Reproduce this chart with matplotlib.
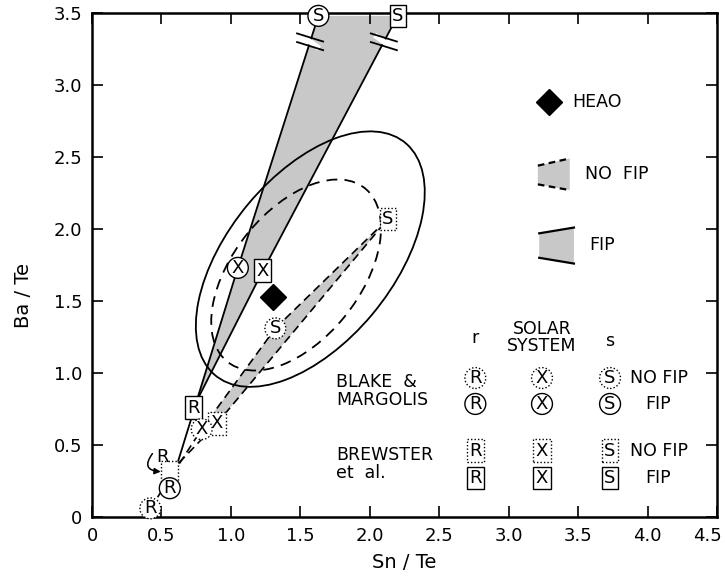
import matplotlib
matplotlib.use('Agg')
import matplotlib.pyplot as plt
from matplotlib.patches import Ellipse, Polygon
from matplotlib.transforms import ScaledTranslation
import numpy as np

plt.rcParams['font.family'] = ['DejaVu Sans']

# ---------------- data ----------------
point_labels = ['R', 'X', 'S']
blake_nofip_x = [0.42, 0.79, 1.32]
blake_nofip_y = [0.06, 0.61, 1.31]
blake_fip_x = [0.56, 1.05, 1.63]
blake_fip_y = [0.20, 1.73, 3.48]
brewster_nofip_x = [0.56, 0.90, 2.13]
brewster_nofip_y = [0.31, 0.65, 2.07]
brewster_fip_x = [0.73, 1.23, 2.20]
brewster_fip_y = [0.76, 1.71, 3.48]
heao_x = [1.30]
heao_y = [1.53]

# outline points of the two uncertainty contours
solid_contour_x = [2.00, 2.24, 2.38, 2.34, 2.19, 2.00, 1.64, 1.28, 0.99, 0.80, 0.74, 0.85, 1.23, 1.52, 1.71]
solid_contour_y = [2.70, 2.61, 2.35, 1.99, 1.64, 1.36, 1.08, 0.94, 0.92, 1.08, 1.36, 1.76, 2.26, 2.52, 2.61]
dashed_contour_x = [2.06, 2.00, 1.81, 1.57, 1.35, 1.12, 0.94, 0.85, 0.90, 1.09, 1.28, 1.59, 1.83, 2.00, 2.06]
dashed_contour_y = [2.19, 2.28, 2.33, 2.30, 2.19, 1.97, 1.66, 1.36, 1.13, 1.03, 1.05, 1.17, 1.38, 1.71, 1.97]

x_ticks = [0, 0.5, 1.0, 1.5, 2.0, 2.5, 3.0, 3.5, 4.0, 4.5]
x_tick_labels = ['0', '0.5', '1.0', '1.5', '2.0', '2.5', '3.0', '3.5', '4.0', '4.5']
y_ticks = [0, 0.5, 1.0, 1.5, 2.0, 2.5, 3.0, 3.5]
y_tick_labels = ['0', '0.5', '1.0', '1.5', '2.0', '2.5', '3.0', '3.5']

break_y = 3.30
FILL = '#c8c8c8'
MFS = 13  # letter size inside markers


def fit_ellipse(xs, ys):
    x = np.asarray(xs, float)
    y = np.asarray(ys, float)
    M = np.column_stack([x * x, x * y, y * y, x, y])
    A, B, C, D, E = np.linalg.lstsq(M, np.ones_like(x), rcond=None)[0]
    den = B * B - 4 * A * C
    x0 = (2 * C * D - B * E) / den
    y0 = (2 * A * E - B * D) / den
    Fp = A * x0 * x0 + B * x0 * y0 + C * y0 * y0 + D * x0 + E * y0 - 1
    evals, evecs = np.linalg.eigh(np.array([[A, B / 2], [B / 2, C]]))
    axes = np.sqrt(-Fp / evals)
    i = int(np.argmax(axes))
    ang = np.degrees(np.arctan2(evecs[1, i], evecs[0, i]))
    return x0, y0, 2 * axes[i], 2 * axes[1 - i], ang


# ---------------- figure ----------------
fig = plt.figure(figsize=(7.25, 5.79), dpi=100)
ax = fig.add_axes([92 / 725, 1 - 517 / 579, (717 - 92) / 725, (517 - 13) / 579])
ax.set_xlim(0, 4.5)
ax.set_ylim(0, 3.5)
ax.set_xticks(x_ticks)
ax.set_xticklabels(x_tick_labels)
ax.set_yticks(y_ticks)
ax.set_yticklabels(y_tick_labels)
ax.tick_params(direction='in', length=8, width=1.2, top=True, right=True,
               labelsize=13, pad=7)
last = ax.get_xticklabels()[-1]
last.set_transform(last.get_transform() + ScaledTranslation(-7 / 72, 0, fig.dpi_scale_trans))
for sp in ax.spines.values():
    sp.set_linewidth(1.8)
ax.set_xlabel('Sn / Te', fontsize=14, labelpad=6)
ax.set_ylabel('Ba / Te', fontsize=14)
ax.yaxis.set_label_coords(-0.095, 0.44)

# FIP band (solid edges)
fip_poly = [(brewster_fip_x[0], brewster_fip_y[0]),
            (blake_fip_x[1], blake_fip_y[1]),
            (blake_fip_x[2], blake_fip_y[2]),
            (brewster_fip_x[2], brewster_fip_y[2]),
            (brewster_fip_x[1], brewster_fip_y[1])]
ax.add_patch(Polygon(fip_poly, closed=True, fc=FILL, ec='none', zorder=1, clip_on=False))
ax.plot(blake_fip_x, blake_fip_y, color='black', lw=1.3, zorder=2, clip_on=False)
ax.plot(brewster_fip_x, brewster_fip_y, color='black', lw=1.3, zorder=2, clip_on=False)

# NO FIP band (dashed edges)
nofip_poly = [(blake_nofip_x[1], blake_nofip_y[1]),
              (blake_nofip_x[2], blake_nofip_y[2]),
              (brewster_nofip_x[2], brewster_nofip_y[2]),
              (brewster_nofip_x[1], brewster_nofip_y[1])]
ax.add_patch(Polygon(nofip_poly, closed=True, fc=FILL, ec='none', zorder=1))
DASH = (0, (5, 3))
ax.plot(blake_nofip_x, blake_nofip_y, color='black', lw=1.2, ls=DASH, zorder=2)
ax.plot([blake_nofip_x[2], brewster_nofip_x[2]], [blake_nofip_y[2], brewster_nofip_y[2]],
        color='black', lw=1.2, ls=DASH, zorder=2)
ax.plot(brewster_nofip_x, brewster_nofip_y, color='black', lw=1.2, ls=DASH, zorder=2)

# contours
for cx, cy, ls in [(solid_contour_x, solid_contour_y, '-'),
                   (dashed_contour_x, dashed_contour_y, (0, (6, 4)))]:
    x0, y0, w, h, ang = fit_ellipse(cx, cy)
    ax.add_patch(Ellipse((x0, y0), w, h, angle=ang, fill=False,
                         ec='black', lw=1.3, ls=ls, zorder=2))


# break marks on the off-scale lines
def break_marks(xs, ys, yb):
    xb = np.interp(yb, ys, xs)
    ax.plot([xb - 0.05, xb + 0.05], [yb + 0.035, yb - 0.035], color='white', lw=4, zorder=3)
    for dy in (0.03, -0.03):
        ax.plot([xb - 0.10, xb + 0.10], [yb + dy + 0.03, yb + dy - 0.03],
                color='black', lw=1.3, zorder=3, solid_capstyle='butt')


break_marks(blake_fip_x[1:], blake_fip_y[1:], break_y)
break_marks(brewster_fip_x[1:], brewster_fip_y[1:], break_y)


# markers
def mark(x, y, letter, shape, dotted, show=True, fs=MFS):
    box = 'circle,pad=0.08' if shape == 'circle' else 'square,pad=0.13'
    ax.text(x, y, letter, ha='center', va='center', fontsize=fs,
            color='black' if show else 'none',
            bbox=dict(boxstyle=box, fc='white', ec='black', lw=1.0,
                      ls=(0, (1, 1.5)) if dotted else '-'),
            zorder=6, clip_on=False)


for i, lab in enumerate(point_labels):
    mark(brewster_nofip_x[i], brewster_nofip_y[i], lab, 'square', True, show=(i != 0))
for i, lab in enumerate(point_labels):
    mark(blake_nofip_x[i], blake_nofip_y[i], lab, 'circle', True)
    mark(blake_fip_x[i], blake_fip_y[i], lab, 'circle', False)
    mark(brewster_fip_x[i], brewster_fip_y[i], lab, 'square', False)

# displaced label for the hidden Brewster NO FIP r point
rx, ry = brewster_nofip_x[0], brewster_nofip_y[0]
ax.text(rx - 0.05, ry + 0.105, 'R', fontsize=MFS, ha='center', va='center', zorder=7)
ax.annotate('', xy=(rx - 0.065, ry + 0.005), xytext=(rx - 0.125, ry + 0.13),
            arrowprops=dict(arrowstyle='-|>', lw=1.1, color='black',
                            connectionstyle='arc3,rad=0.9',
                            shrinkA=0, shrinkB=0, mutation_scale=9), zorder=7)

ax.plot(heao_x, heao_y, marker='D', ms=13, color='black', ls='none', zorder=6)

# ---------------- legend (upper right) ----------------
ax.plot([3.29], [2.88], marker='D', ms=13, color='black', zorder=6)
ax.text(3.46, 2.88, 'HEAO', fontsize=12.5, va='center', ha='left')

ax.add_patch(Polygon([(3.21, 2.44), (3.44, 2.49), (3.44, 2.27), (3.21, 2.31)],
                     closed=True, fc=FILL, ec='none'))
ax.plot([3.21, 3.44], [2.44, 2.49], color='black', lw=1.6, ls=(0, (3, 2)))
ax.plot([3.21, 3.44], [2.31, 2.27], color='black', lw=1.6, ls=(0, (3, 2)))
ax.text(3.55, 2.38, 'NO  FIP', fontsize=12.5, va='center', ha='left')

ax.add_patch(Polygon([(3.22, 1.97), (3.47, 2.01), (3.47, 1.76), (3.22, 1.80)],
                     closed=True, fc=FILL, ec='none'))
ax.plot([3.22, 3.47], [1.97, 2.01], color='black', lw=1.6)
ax.plot([3.22, 3.47], [1.80, 1.76], color='black', lw=1.6)
ax.text(3.58, 1.89, 'FIP', fontsize=12.5, va='center', ha='left')

# ---------------- table legend ----------------
col_x = [2.76, 3.24, 3.73]
row_y = [0.965, 0.785, 0.46, 0.27]
ax.text(col_x[0], 1.24, 'r', fontsize=12.5, ha='center', va='center')
ax.text(col_x[1], 1.245, 'SOLAR\nSYSTEM', fontsize=12.5, ha='center', va='center',
        linespacing=0.95)
ax.text(col_x[2], 1.225, 's', fontsize=12.5, ha='center', va='center')
ax.text(1.76, 0.875, 'BLAKE  &\nMARGOLIS', fontsize=12.5, ha='left', va='center',
        linespacing=1.0)
ax.text(1.76, 0.365, 'BREWSTER\net  al.', fontsize=12.5, ha='left', va='center',
        linespacing=1.0)
for j, lab in enumerate(point_labels):
    mark(col_x[j], row_y[0], lab, 'circle', True)
    mark(col_x[j], row_y[1], lab, 'circle', False)
    mark(col_x[j], row_y[2], lab, 'square', True)
    mark(col_x[j], row_y[3], lab, 'square', False)
for r, t, xo in [(0, 'NO FIP', 3.87), (1, 'FIP', 3.98), (2, 'NO FIP', 3.87), (3, 'FIP', 3.98)]:
    ax.text(xo, row_y[r], t, fontsize=12.5, ha='left', va='center')

fig.savefig('out.png', dpi=100)
